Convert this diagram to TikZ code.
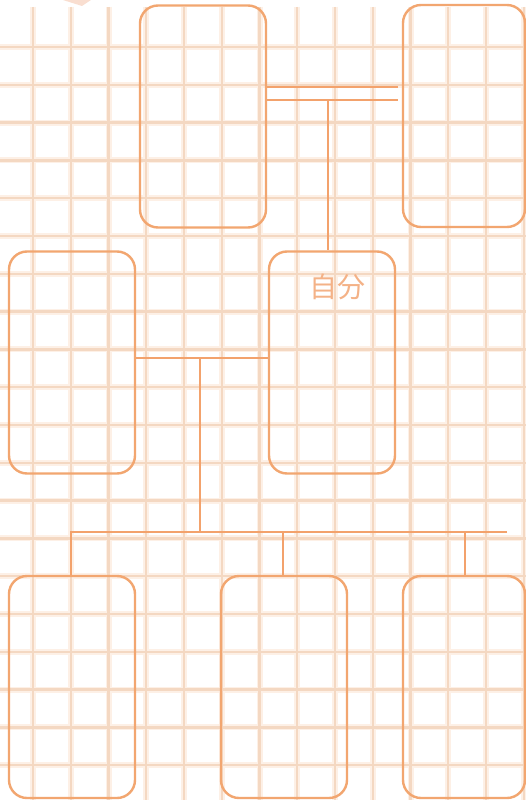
\documentclass[tikz,border=0pt]{standalone}
\usepackage{fontspec}
\newfontfamily\cjk{Noto Sans CJK JP}
\definecolor{gridhalo}{RGB}{253,240,230}
\definecolor{gridcore}{RGB}{244,216,194}
\definecolor{boxc}{RGB}{242,166,112}
\definecolor{connc}{RGB}{243,162,108}
\definecolor{textc}{RGB}{244,178,135}
\definecolor{tapec}{RGB}{249,222,208}
\begin{document}
\begin{tikzpicture}[x=1pt,y=-1pt,
  famb/.style={draw=boxc, line width=2.4pt, rounded corners=18pt, minimum height=222pt, inner sep=0pt},
  conn/.style={draw=connc, line width=2.3pt},
  halo/.style={draw=gridhalo, line width=6pt},
  core/.style={draw=gridcore, line width=2.4pt}]
\useasboundingbox (0,0) rectangle (526,800);
\fill[white] (0,0) rectangle (526,800);
% grid
\foreach \k in {0,...,13} {
  \draw[halo] ({33+37.75*\k},7) -- ({33+37.75*\k},800);
}
\foreach \k in {0,...,19} {
  \draw[halo] (0,{47+37.8*\k}) -- (526,{47+37.8*\k});
}
\foreach \k in {0,...,13} {
  \draw[core] ({33+37.75*\k},7) -- ({33+37.75*\k},800);
}
\foreach \k in {0,...,19} {
  \draw[core] (0,{47+37.8*\k}) -- (526,{47+37.8*\k});
}
% tape corner
\fill[tapec] (63,0) -- (91,0) -- (82,6) -- cycle;
% boxes
\node[famb, minimum width=126pt] (tl) at (203,116.5) {};
\node[famb, minimum width=122pt] (tr) at (464,116) {};
\node[famb, minimum width=126pt] (ml) at (72,362.5) {};
\node[famb, minimum width=126pt] (mr) at (332,362.5) {};
\node[famb, minimum width=126pt] (bl) at (72,687) {};
\node[famb, minimum width=126pt] (bm) at (284,687) {};
\node[famb, minimum width=122pt] (br) at (464,687) {};
\node[text=textc, font=\cjk\fontsize{28}{28}\selectfont, inner sep=0pt] (self) at (337.5,287) {自分};
% connectors
\coordinate (d1e) at (398,87);
\coordinate (d2e) at (398,100);
\coordinate (dm) at (328,100);
\draw[conn] (tl.east |- d1e) -- (d1e);
\draw[conn] (tl.east |- d2e) -- (d2e);
\draw[conn] (dm) -- (dm |- mr.north);
\coordinate (pm) at (200,358);
\coordinate (pb) at (200,532);
\coordinate (hl) at (71,532);
\coordinate (hr) at (507,532);
\coordinate (c2) at (283,532);
\coordinate (c3) at (465,532);
\draw[conn] (ml.east |- pm) -- (mr.west |- pm);
\draw[conn] (pm) -- (pb);
\draw[conn] (hr) -- (hl) -- (hl |- bl.north);
\draw[conn] (c2) -- (c2 |- bm.north);
\draw[conn] (c3) -- (c3 |- br.north);
\end{tikzpicture}
\end{document}
